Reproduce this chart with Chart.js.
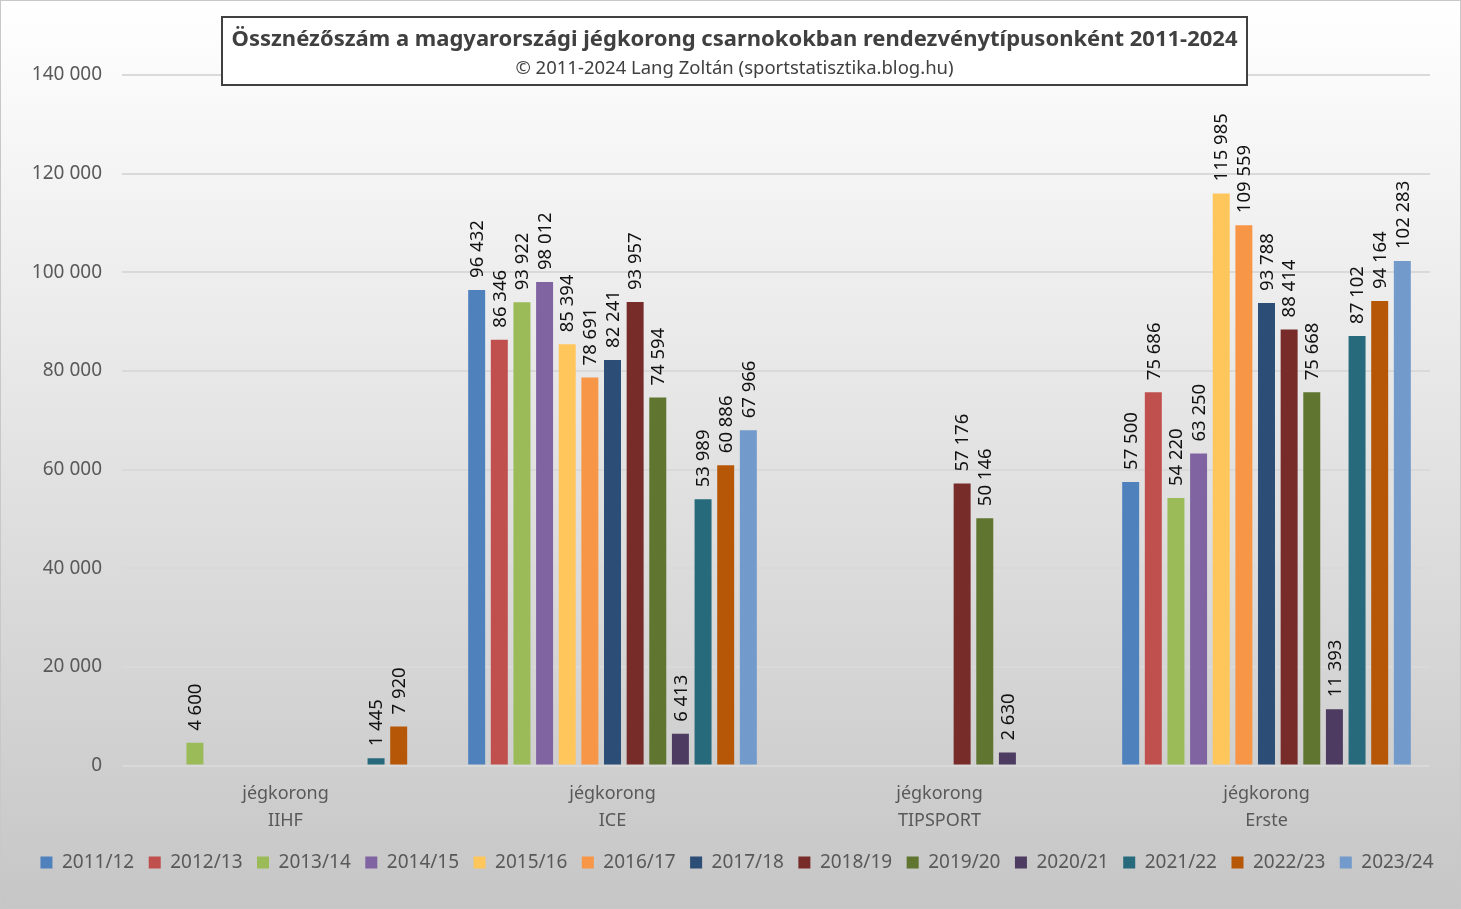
<!DOCTYPE html>
<html>
<head>
<meta charset="utf-8">
<script src="https://cdn.jsdelivr.net/npm/chart.js@4.4.1/dist/chart.umd.min.js"></script>
<style>
  html, body { margin: 0; padding: 0; background: #fff; }
  #wrap { width: 1461px; height: 909px; position: relative; }
</style>
</head>
<body>
<div id="wrap"><canvas id="c" width="1461" height="909"></canvas></div>
<script>
const categories = [['jégkorong', 'IIHF'], ['jégkorong', 'ICE'], ['jégkorong', 'TIPSPORT'], ['jégkorong', 'Erste']];
const seasons = ['2011/12', '2012/13', '2013/14', '2014/15', '2015/16', '2016/17', '2017/18', '2018/19', '2019/20', '2020/21', '2021/22', '2022/23', '2023/24'];
// values per season: [IIHF, ICE, TIPSPORT, Erste]
const s2011 = [null, 96432, null, 57500];
const s2012 = [null, 86346, null, 75686];
const s2013 = [4600, 93922, null, 54220];
const s2014 = [null, 98012, null, 63250];
const s2015 = [null, 85394, null, 115985];
const s2016 = [null, 78691, null, 109559];
const s2017 = [null, 82241, null, 93788];
const s2018 = [null, 93957, 57176, 88414];
const s2019 = [null, 74594, 50146, 75668];
const s2020 = [null, 6413, 2630, 11393];
const s2021 = [1445, 53989, null, 87102];
const s2022 = [7920, 60886, null, 94164];
const s2023 = [null, 67966, null, 102283];
const seriesValues = [s2011, s2012, s2013, s2014, s2015, s2016, s2017, s2018, s2019, s2020, s2021, s2022, s2023];
const colors = ['#4F81BD', '#C0504D', '#9BBB59', '#8064A2', '#FFC65C', '#F79646', '#2C4D75', '#772C2A', '#5F7530', '#4D3B62', '#276A7C', '#B65708', '#729ACA'];
const yTicks = [0, 20000, 40000, 60000, 80000, 100000, 120000, 140000];
const titleText = 'Össznézőszám a magyarországi jégkorong csarnokokban rendezvénytípusonként 2011-2024';
const subtitleText = '© 2011-2024 Lang Zoltán (sportstatisztika.blog.hu)';

const FONT = "'Noto Sans', sans-serif";
const fmt = v => String(v).replace(/\B(?=(\d{3})+(?!\d))/g, ' ');

const bgPlugin = {
  id: 'bg',
  beforeDraw(chart) {
    const { ctx, width, height } = chart;
    ctx.save();
    const g = ctx.createLinearGradient(0, 0, 0, height);
    g.addColorStop(0, '#ffffff');
    g.addColorStop(1, '#c6c6c6');
    ctx.fillStyle = g;
    ctx.fillRect(0, 0, width, height);
    ctx.strokeStyle = '#c8c8c8';
    ctx.lineWidth = 1;
    ctx.strokeRect(0.5, 0.5, width - 1, height - 1);
    ctx.restore();
  }
};

const labelPlugin = {
  id: 'barLabels',
  afterDatasetsDraw(chart) {
    const { ctx } = chart;
    ctx.save();
    ctx.font = '18.5px ' + FONT;
    ctx.fillStyle = '#111111';
    ctx.textAlign = 'left';
    ctx.textBaseline = 'middle';
    chart.data.datasets.forEach((ds, i) => {
      const meta = chart.getDatasetMeta(i);
      meta.data.forEach((bar, j) => {
        const v = ds.data[j];
        if (v === null || v === undefined) return;
        ctx.save();
        ctx.translate(bar.x, bar.y - 12);
        ctx.rotate(-Math.PI / 2);
        ctx.fillText(fmt(v), 0, 1);
        ctx.restore();
      });
    });
    ctx.restore();
  }
};

const titlePlugin = {
  id: 'titleBox',
  afterDraw(chart) {
    const { ctx } = chart;
    ctx.save();
    const x0 = 222, y0 = 17, w = 1025, h = 68;
    ctx.fillStyle = '#ffffff';
    ctx.fillRect(x0, y0, w, h);
    ctx.strokeStyle = '#404040';
    ctx.lineWidth = 2;
    ctx.strokeRect(x0, y0, w, h);
    ctx.fillStyle = '#404040';
    ctx.textAlign = 'center';
    ctx.textBaseline = 'middle';
    let size = 24;
    ctx.font = 'bold ' + size + 'px ' + FONT;
    while (ctx.measureText(titleText).width > 1007 && size > 10) {
      size -= 0.5;
      ctx.font = 'bold ' + size + 'px ' + FONT;
    }
    ctx.fillText(titleText, x0 + w / 2, 40);
    let s2 = 19;
    ctx.font = s2 + 'px ' + FONT;
    while (ctx.measureText(subtitleText).width > 446 && s2 > 10) {
      s2 -= 0.5;
      ctx.font = s2 + 'px ' + FONT;
    }
    ctx.fillText(subtitleText, x0 + w / 2, 69);
    ctx.restore();
  }
};

new Chart(document.getElementById('c'), {
  type: 'bar',
  data: {
    labels: categories,
    datasets: seasons.map((s, i) => ({
      label: s,
      data: seriesValues[i],
      backgroundColor: colors[i],
      borderColor: colors[i],
      borderWidth: 0,
      categoryPercentage: 0.9,
      barPercentage: 0.75
    }))
  },
  options: {
    responsive: false,
    animation: false,
    layout: { padding: { top: 75, left: 13, right: 0, bottom: 27 } },
    plugins: {
      title: { display: false },
      tooltip: { enabled: false },
      legend: {
        position: 'bottom',
        labels: {
          boxWidth: 12,
          boxHeight: 12,
          padding: 14.5,
          color: '#595959',
          font: { family: FONT, size: 19 }
        }
      }
    },
    scales: {
      x: {
        grid: { display: false, drawTicks: false },
        border: { display: false },
        ticks: {
          color: '#595959',
          padding: 15,
          font: { family: FONT, size: 18, lineHeight: 1.5 },
          maxRotation: 0
        },
        afterFit(scale) { scale.height = 73; }
      },
      y: {
        min: 0,
        max: 140000,
        afterBuildTicks(scale) { scale.ticks = yTicks.map(v => ({ value: v })); },
        grid: { color: '#d9d9d9', lineWidth: 2, drawTicks: false },
        border: { display: false },
        ticks: {
          color: '#595959',
          padding: 20,
          font: { family: FONT, size: 19 },
          callback: v => fmt(v)
        },
        afterFit(scale) { scale.width = 109; }
      },
      yRight: {
        position: 'right',
        min: 0,
        max: 1,
        grid: { display: false, drawTicks: false },
        border: { display: false },
        ticks: { display: false },
        afterFit(scale) { scale.width = 31; }
      }
    }
  },
  plugins: [bgPlugin, labelPlugin, titlePlugin]
});
</script>
</body>
</html>
